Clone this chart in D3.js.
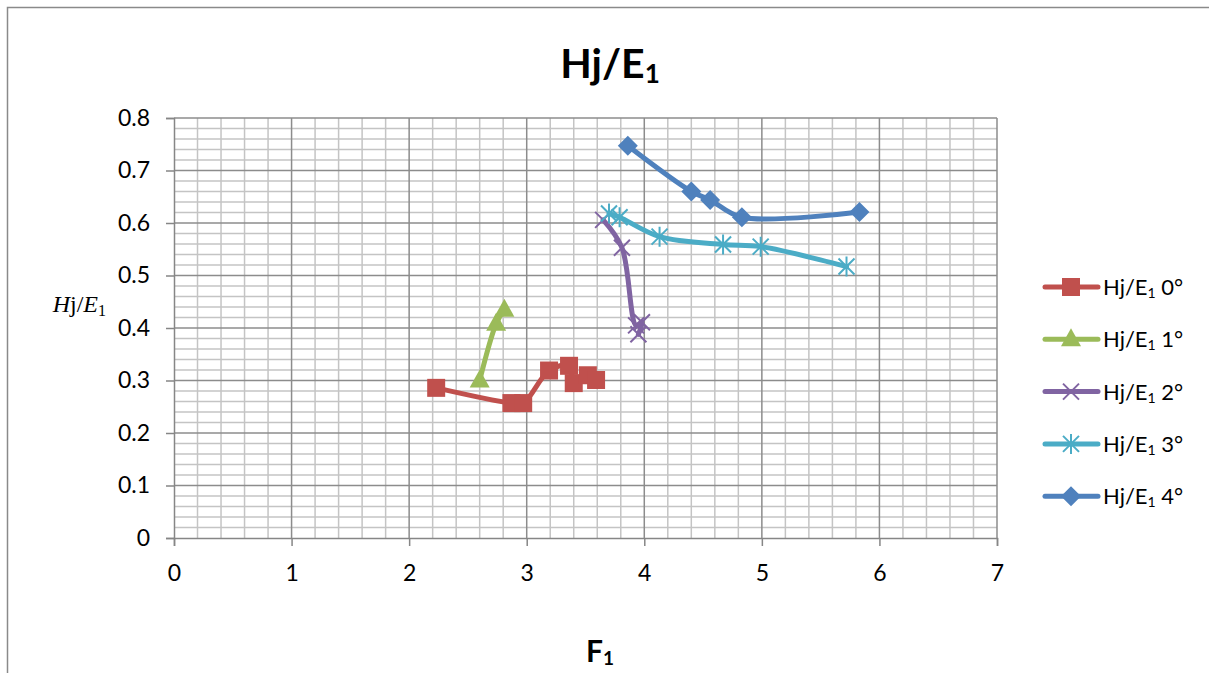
<!DOCTYPE html>
<html>
<head>
<meta charset="utf-8">
<script src="https://cdn.jsdelivr.net/npm/d3@7"></script>
<style>
  body { margin: 0; background: #fff; }
  text { font-family: Lato, "Open Sans", sans-serif; fill: #000; }
</style>
</head>
<body>
<div id="chart"></div>
<script>
// data
var seriesNames = ["0°", "1°", "2°", "3°", "4°"];
var seriesColors = ["#C0504D", "#9BBB59", "#8064A2", "#4BACC6", "#4F81BD"];
var seriesMarkers = ["square", "triangle", "x", "star", "diamond"];

var s0 = [[2.23, 0.286], [2.87, 0.257], [2.97, 0.257], [3.19, 0.319], [3.36, 0.328], [3.40, 0.295], [3.52, 0.310], [3.59, 0.301]];
var s1 = [[2.60, 0.300], [2.74, 0.408], [2.81, 0.435]];
var s2 = [[3.65, 0.606], [3.81, 0.553], [3.93, 0.405], [3.98, 0.411], [3.95, 0.388]];
var s3 = [[3.70, 0.618], [3.79, 0.611], [4.13, 0.574], [4.67, 0.559], [4.99, 0.555], [5.72, 0.517]];
var s4 = [[3.86, 0.747], [4.40, 0.660], [4.56, 0.644], [4.83, 0.611], [5.83, 0.621]];
var allSeries = [s0, s1, s2, s3, s4];

var xTicks = [0, 1, 2, 3, 4, 5, 6, 7];
var yTicks = [0, 0.1, 0.2, 0.3, 0.4, 0.5, 0.6, 0.7, 0.8];

var W = 1209, H = 673;
var margin = {top: 118, left: 174};
var width = 823, height = 420;

var svg = d3.select("#chart").append("svg")
  .attr("width", W).attr("height", H);

// outer chart frame
svg.append("rect")
  .attr("x", 7.5).attr("y", 7.5)
  .attr("width", 1230).attr("height", 700)
  .attr("fill", "none").attr("stroke", "#8a8a8a").attr("stroke-width", 1.5);

var g = svg.append("g")
  .attr("transform", "translate(" + margin.left + "," + margin.top + ")");

var x = d3.scaleLinear().domain([0, 7]).range([0, width]);
var y = d3.scaleLinear().domain([0, 0.8]).range([height, 0]);

// minor grid
g.append("g").selectAll("line")
  .data(d3.range(1, 35).filter(function(i) { return i % 5 != 0; }))
  .enter().append("line")
    .attr("x1", function(d) { return x(d * 0.2); })
    .attr("x2", function(d) { return x(d * 0.2); })
    .attr("y1", 0).attr("y2", height)
    .attr("stroke", "#c4c4c4").attr("stroke-width", 1.5);
g.append("g").selectAll("line")
  .data(d3.range(1, 40).filter(function(i) { return i % 5 != 0; }))
  .enter().append("line")
    .attr("y1", function(d) { return y(d * 0.02); })
    .attr("y2", function(d) { return y(d * 0.02); })
    .attr("x1", 0).attr("x2", width)
    .attr("stroke", "#c4c4c4").attr("stroke-width", 1.5);

// major grid
g.append("g").selectAll("line")
  .data(xTicks.slice(1))
  .enter().append("line")
    .attr("x1", function(d) { return x(d); })
    .attr("x2", function(d) { return x(d); })
    .attr("y1", 0).attr("y2", height)
    .attr("stroke", "#8c8c8c").attr("stroke-width", 1.5);
g.append("g").selectAll("line")
  .data(yTicks.slice(1))
  .enter().append("line")
    .attr("y1", function(d) { return y(d); })
    .attr("y2", function(d) { return y(d); })
    .attr("x1", 0).attr("x2", width)
    .attr("stroke", "#8c8c8c").attr("stroke-width", 1.5);

// axes
var xAxis = g.append("g")
  .attr("transform", "translate(0," + height + ")")
  .call(d3.axisBottom(x).tickValues(xTicks).tickSize(8).tickPadding(19).tickFormat(d3.format("d")));
var yAxis = g.append("g")
  .call(d3.axisLeft(y).tickValues(yTicks).tickSize(8).tickPadding(16).tickFormat(function(d) { return d === 0 ? "0" : d3.format(".1f")(d); }));
[xAxis, yAxis].forEach(function(a) {
  a.select(".domain").attr("stroke", "#868686").attr("stroke-width", 1.5);
  a.selectAll(".tick line").attr("stroke", "#868686").attr("stroke-width", 1.5);
  a.selectAll(".tick text").style("font-size", "23px").style("font-family", "Lato, sans-serif").attr("fill", "#000");
});
xAxis.selectAll(".tick text").attr("dy", "0.71em");

// markers
function markerPath(type) {
  if (type == "square") return "M-9,-9H9V9H-9Z";
  if (type == "triangle") return "M0,-11L10,7H-10Z";
  if (type == "diamond") return "M0,-10L10,0L0,10L-10,0Z";
  if (type == "x") return "M-8,-8L8,8M-8,8L8,-8";
  if (type == "star") return "M-8,-8L8,8M-8,8L8,-8M0,-10V10";
}
function drawMarker(sel, type, color) {
  var filled = (type == "square" || type == "triangle" || type == "diamond");
  sel.append("path")
    .attr("d", markerPath(type))
    .attr("fill", filled ? color : "none")
    .attr("stroke", color)
    .attr("stroke-width", filled ? 0 : 2);
}

var line = d3.line()
  .x(function(d) { return x(d[0]); })
  .y(function(d) { return y(d[1]); })
  .curve(d3.curveCatmullRom.alpha(0.5));

allSeries.forEach(function(s, i) {
  g.append("path")
    .datum(s)
    .attr("d", line)
    .attr("fill", "none")
    .attr("stroke", seriesColors[i])
    .attr("stroke-width", 5)
    .attr("stroke-linejoin", "round")
    .attr("stroke-linecap", "round");
  s.forEach(function(p) {
    var m = g.append("g").attr("transform", "translate(" + x(p[0]) + "," + y(p[1]) + ")");
    drawMarker(m, seriesMarkers[i], seriesColors[i]);
  });
});

// title
var title = svg.append("text")
  .attr("x", 610).attr("y", 78)
  .attr("text-anchor", "middle")
  .style("font-size", "41px").style("font-weight", "bold");
title.append("tspan").text("Hj/E");
title.append("tspan").attr("dy", 5).style("font-size", "26px").text("1");

// x label
var xl = svg.append("text")
  .attr("x", 600).attr("y", 662)
  .attr("text-anchor", "middle")
  .style("font-size", "30px").style("font-weight", "bold");
xl.append("tspan").text("F");
xl.append("tspan").attr("dy", 3).style("font-size", "19px").text("1");

// y label
var yl = svg.append("text")
  .attr("x", 106).attr("y", 312)
  .attr("text-anchor", "end")
  .style("font-family", "'Liberation Serif', serif")
  .style("font-size", "24px");
yl.append("tspan").style("font-style", "italic").text("H");
yl.append("tspan").text("j/");
yl.append("tspan").style("font-style", "italic").text("E");
yl.append("tspan").attr("dy", 4).style("font-size", "16px").text("1");

// legend
var legend = svg.append("g");
seriesNames.forEach(function(name, i) {
  var ly = 287 + i * 52.3;
  var lg = legend.append("g").attr("transform", "translate(0," + ly + ")");
  lg.append("line")
    .attr("x1", 1045).attr("x2", 1098).attr("y1", 0).attr("y2", 0)
    .attr("stroke", seriesColors[i]).attr("stroke-width", 5).attr("stroke-linecap", "round");
  var m = lg.append("g").attr("transform", "translate(1071,0)");
  drawMarker(m, seriesMarkers[i], seriesColors[i]);
  var t = lg.append("text").attr("x", 1103).attr("y", 8).style("font-size", "22px");
  t.append("tspan").text("Hj/E");
  t.append("tspan").attr("dy", 3).style("font-size", "14px").text("1");
  t.append("tspan").attr("dy", -3).text(" " + name);
});
</script>
</body>
</html>
